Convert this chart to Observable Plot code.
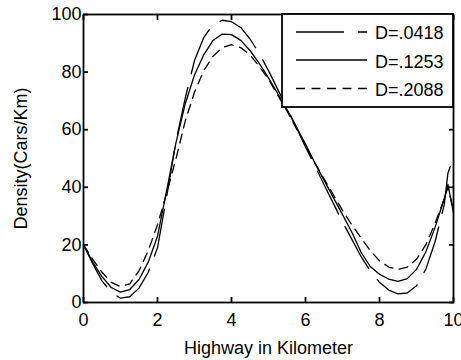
<!DOCTYPE html>
<html><head><meta charset="utf-8">
<script src="https://cdn.jsdelivr.net/npm/d3@7"></script>
<script src="https://cdn.jsdelivr.net/npm/@observablehq/plot@0.6"></script>
<style>body{margin:0;background:#fff;}</style>
</head><body><div id="chart"></div>
<script>
// Positions along the highway (km)
const xKm = [0,0.25,0.5,0.75,1,1.25,1.5,1.75,2,2.25,2.5,2.75,3,3.25,3.5,3.75,4,4.25,4.5,4.75,5,5.25,5.5,5.75,6,6.25,6.5,6.75,7,7.25,7.5,7.75,8,8.25,8.5,8.75,9,9.25,9.5,9.75,9.85,10];
// Density (cars/km) for each D
const densityD0418 = [20,13.5,7.5,3.5,1.5,2,5,10.5,19,37,56,71,84,92,96.5,98,97.5,95.5,91.5,86.5,80.5,74,67.5,61,54,47.5,41,34.5,28,22,16,11,7,4.3,3,3.3,5.8,11.5,21,34,45,50];
const densityD1253 = [20,14,9,5.2,3.6,4.5,8,14,23,39,55.5,69,79,86,91,93.2,93,91,87.5,83,78,72.5,67,61,55,48.5,42.5,36.5,30.5,24.5,17.5,12.5,9.8,8.1,7.3,8.3,11.5,17.5,26,36,41,31];
const densityD2088 = [20,15,10.5,7,5.5,6.5,11,18,27,38,50,63,73,80.5,85.5,88.5,89.5,88.5,86,82,77.5,72,66.5,60.5,54.5,48.5,43,37.5,32,27,22.5,18,14.5,12.3,11.5,12.3,15,20,27.5,36,40,32];
const seriesNames = ["D=.0418","D=.1253","D=.2088"];
const xTicks = [0,2,4,6,8,10];
const yTicks = [0,20,40,60,80,100];

(function(){
const dashes = ["48,14", null, "9,6.5"];
const allSeries = [densityD0418, densityD1253, densityD2088];
const rows = [];
allSeries.forEach((vals,i)=>vals.forEach((v,j)=>rows.push({x:xKm[j], y:v, s:seriesNames[i]})));

const lineMarks = seriesNames.map((name,i)=>Plot.line(rows.filter(r=>r.s===name),
  {x:"x", y:"y", stroke:"black", strokeWidth:1.3, strokeDasharray:dashes[i]}));

const blank = () => "";
const plot = Plot.plot({
  width:461, height:360,
  marginLeft:83, marginRight:8, marginTop:14, marginBottom:58,
  style:{fontFamily:"'Liberation Sans', Arial, sans-serif", fontSize:"18px", background:"white", color:"black"},
  x:{domain:[0,10]},
  y:{domain:[0,100]},
  marks:[
    ...lineMarks,
    Plot.axisX({ticks:xTicks, anchor:"bottom", tickSize:0, tickPadding:11, fontSize:18,
      label:"Highway in Kilometer", labelAnchor:"center", labelOffset:51, labelArrow:"none"}),
    Plot.axisX({ticks:xTicks, anchor:"bottom", tickSize:5, dy:-5, tickFormat:blank, label:null, strokeWidth:1.8}),
    Plot.axisX({ticks:xTicks, anchor:"top", tickSize:5, dy:5, tickFormat:blank, label:null, strokeWidth:1.8}),
    Plot.axisY({ticks:yTicks, anchor:"left", tickSize:0, tickPadding:2, fontSize:18,
      label:"Density(Cars/Km)", labelAnchor:"center", labelOffset:69, labelArrow:"none"}),
    Plot.axisY({ticks:yTicks, anchor:"left", tickSize:5, dx:5, tickFormat:blank, label:null, strokeWidth:1.8}),
    Plot.axisY({ticks:yTicks, anchor:"right", tickSize:5, dx:-5, tickFormat:blank, label:null, strokeWidth:1.8}),
    Plot.frame({stroke:"black", strokeWidth:1.8})
  ]
});

// Legend inside the top-right corner of the frame
const sx = plot.scale("x"), sy = plot.scale("y");
const boxRight = sx.apply(10), boxTop = sy.apply(100);
const boxW = 171, boxH = 93;
const boxLeft = boxRight - boxW;
const g = d3.select(plot).append("g").attr("text-anchor","start");
g.append("rect").attr("x", boxLeft).attr("y", boxTop).attr("width", boxW).attr("height", boxH)
  .attr("fill","white").attr("stroke","black").attr("stroke-width",1.8);
const lineOff = [18, 46, 74.5], textOff = [19, 47.7, 75.7];
seriesNames.forEach((name,i)=>{
  const ln = g.append("line").attr("x1", boxLeft+14).attr("x2", boxLeft+85)
    .attr("y1", boxTop+lineOff[i]).attr("y2", boxTop+lineOff[i])
    .attr("stroke","black").attr("stroke-width",1.3);
  if (dashes[i]) ln.attr("stroke-dasharray", dashes[i]);
  g.append("text").attr("x", boxLeft+93).attr("y", boxTop+textOff[i])
    .attr("text-anchor","start")
    .attr("dominant-baseline","central").attr("font-size",18)
    .attr("font-family","'Liberation Sans', Arial, sans-serif").attr("fill","black").text(name);
});

document.getElementById("chart").appendChild(plot);
})();
</script>
</body></html>
